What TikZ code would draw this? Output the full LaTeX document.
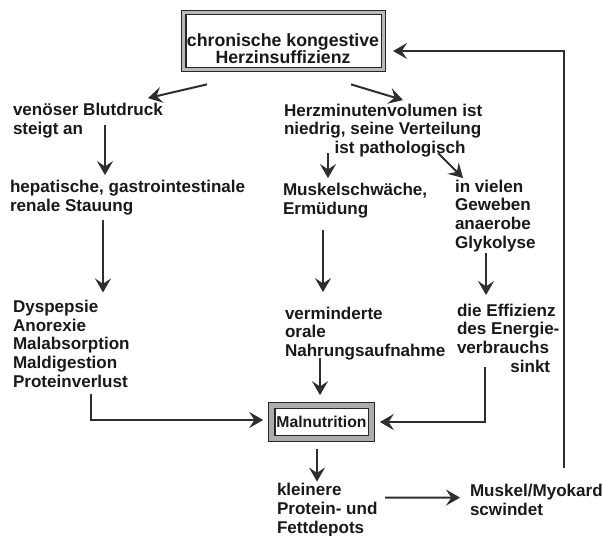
\documentclass[tikz,border=0pt]{standalone}
\usepackage{fontspec}
\setmainfont{Liberation Sans}
\usetikzlibrary{arrows.meta}
\begin{document}
\begin{tikzpicture}[x=0.75pt,y=-0.75pt,
  txt/.style={inner sep=0pt, outer sep=0pt, font=\bfseries\fontsize{12.8}{13.9}\selectfont, text=black!90, align=left},
  arr/.style={draw=black!82, line width=1.5pt, -{Stealth[length=10.5pt,width=12pt,inset=4pt]}},
  topframe/.style={draw=black!85, line width=1.1pt, double=gray!55, double distance=2pt, fill=white, inner sep=0pt},
  malframe/.style={draw=black!85, line width=0.9pt, double=gray!65, double distance=3.8pt, fill=white, inner sep=0pt,
    font=\bfseries\fontsize{11.8}{13}\selectfont, text=black!90}]
\useasboundingbox (0,0) rectangle (602,535);

% boxes
\node[topframe, minimum width=149.7pt, minimum height=43pt] (top) at (283.5,41) {};
\node[txt, align=center, anchor=base, font=\bfseries\fontsize{13.3}{12.5}\selectfont] (toptxt) at (283,63.5)
  {chronische kongestive\\Herzinsuffizienz};
\node[malframe, minimum width=74.6pt, minimum height=24.4pt] (mal) at (321.5,422) {Malnutrition};

% text nodes (anchored at the baseline of their last line)
\node[txt, anchor=base west] (venoes) at (13,134) {venöser Blutdruck\\steigt an};
\node[txt, anchor=base west] (hepat) at (10,211) {hepatische, gastrointestinale\\renale Stauung};
\node[txt, anchor=base west] (dysp) at (13,387) {Dyspepsie\\Anorexie\\Malabsorption\\Maldigestion\\Proteinverlust};
\node[txt, anchor=base west] (herz) at (284,153.5) {Herzminutenvolumen ist\\niedrig, seine Verteilung\\\hspace*{38pt}ist pathologisch};
\node[txt, anchor=base west] (musw) at (283,214) {Muskelschwäche,\\Ermüdung};
\node[txt, anchor=base west] (viel) at (455,248) {in vielen\\Geweben\\anaerobe\\Glykolyse};
\node[txt, anchor=base west] (verm) at (285,356.5) {verminderte\\orale\\Nahrungsaufnahme};
\node[txt, anchor=base west] (eff) at (457,372) {die Effizienz\\des Energie-\\verbrauchs\\\hspace*{40pt}sinkt};
\node[txt, anchor=base west] (klein) at (277,533) {kleinere\\Protein- und\\Fettdepots};
\node[txt, anchor=base west] (musk) at (470,515.5) {Muskel/Myokard\\scwindet};

% connectors
\draw[arr] ([shift={(24,14)}]top.south west) -- ([shift={(135,-5)}]venoes.north west);
\draw[arr] ([shift={(-33,14)}]top.south east) -- ([shift={(119,-4)}]herz.north west);
\draw[arr] ([shift={(92,22)}]venoes.north west) -- ([shift={(95,-5)}]hepat.north west);
\draw[arr] ([shift={(93,40)}]hepat.north west) -- ([shift={(90,-8)}]dysp.north west);
\draw[arr] ([shift={(78,93)}]dysp.north west) |- ([shift={(-8,-2)}]mal.west);
\draw[arr] ([shift={(44,49)}]herz.north west) -- ([shift={(45,-5)}]musw.north west);
\draw[arr] ([shift={(154,49)}]herz.north west) -- ([shift={(8,-2)}]viel.north west);
\draw[arr] ([shift={(40,47)}]musw.north west) -- ([shift={(38,-15)}]verm.north west);
\draw[arr] ([shift={(31,73)}]viel.north west) -- ([shift={(29,-9)}]eff.north west);
\draw[arr] ([shift={(28,63)}]eff.north west) |- ([shift={(8,0)}]mal.east);
\draw[arr] ([shift={(35,51)}]verm.north west) -- ([shift={(-1.5,-10)}]mal.north);
\draw[arr] ([shift={(-4.5,10)}]mal.south) -- ([shift={(40,-2)}]klein.north west);
\draw[arr] ([shift={(108,14)}]klein.north west) -- ([shift={(-10,13)}]musk.north west);
\draw[arr] ([shift={(94,-17)}]musk.north west) |- ([shift={(9,10)}]top.east);
\end{tikzpicture}
\end{document}
